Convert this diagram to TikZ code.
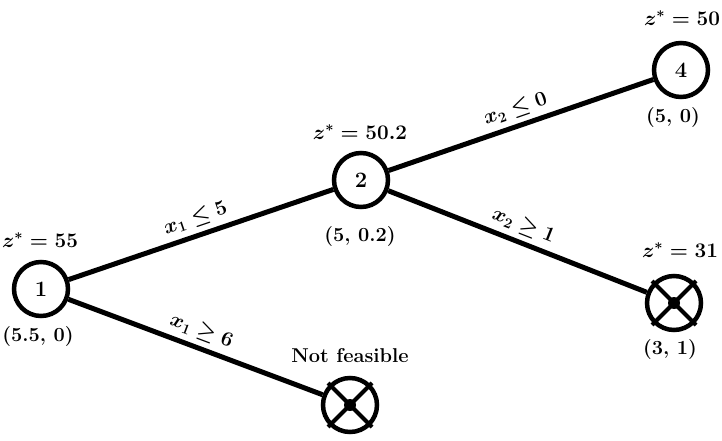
\documentclass[tikz,border=0pt]{standalone}
\usepackage{amssymb}
\begin{document}
\begin{tikzpicture}[x=1pt,y=-1pt,
  bbnode/.style={circle,draw,line width=4.5pt,minimum size=54pt,inner sep=0pt,font=\fontsize{22}{24}\selectfont\bfseries},
  edge/.style={line width=5pt},
  lbl/.style={font=\fontsize{20}{22}\selectfont\boldmath\bfseries,inner sep=1pt},
  elbl/.style={font=\fontsize{20}{22}\selectfont\boldmath,sloped,above,inner sep=5pt}]
\useasboundingbox (0,0) rectangle (722,441);
\node[bbnode] (n1) at (41,289) {1};
\node[bbnode] (n2) at (361,180) {2};
\node[bbnode] (n4) at (681,70) {4};
\node[bbnode] (n3) at (674,303) {};
\node[bbnode] (n5) at (350,405) {};
\foreach \n in {n3,n5}{
  \draw[line width=4pt] (\n.center) ++(-22,-22) -- ++(44,44);
  \draw[line width=4pt] (\n.center) ++(22,-22) -- ++(-44,44);
  \fill (\n.center) circle (6pt);
}
\draw[edge] (n1) -- node[elbl]{$x_1\leq 5$} (n2);
\draw[edge] (n1) -- node[elbl]{$x_1\geq 6$} (n5);
\draw[edge] (n2) -- node[elbl]{$x_2\leq 0$} (n4);
\draw[edge] (n2) -- node[elbl]{$x_2\geq 1$} (n3);
\node[lbl] (z1) at (40,240) {$z^* = 55$};
\node[lbl] (s1) at (38,337) {(5.5, 0)};
\node[lbl] (z2) at (360,132) {$z^* = 50.2$};
\node[lbl] (s2) at (360,237) {(5, 0.2)};
\node[lbl] (z4) at (682,18) {$z^* = 50$};
\node[lbl] (s4) at (673,118) {(5, 0)};
\node[lbl] (z3) at (680,250) {$z^* = 31$};
\node[lbl] (s3) at (670,350) {(3, 1)};
\node[lbl] (nf) at (350,356) {Not feasible};
\end{tikzpicture}
\end{document}
